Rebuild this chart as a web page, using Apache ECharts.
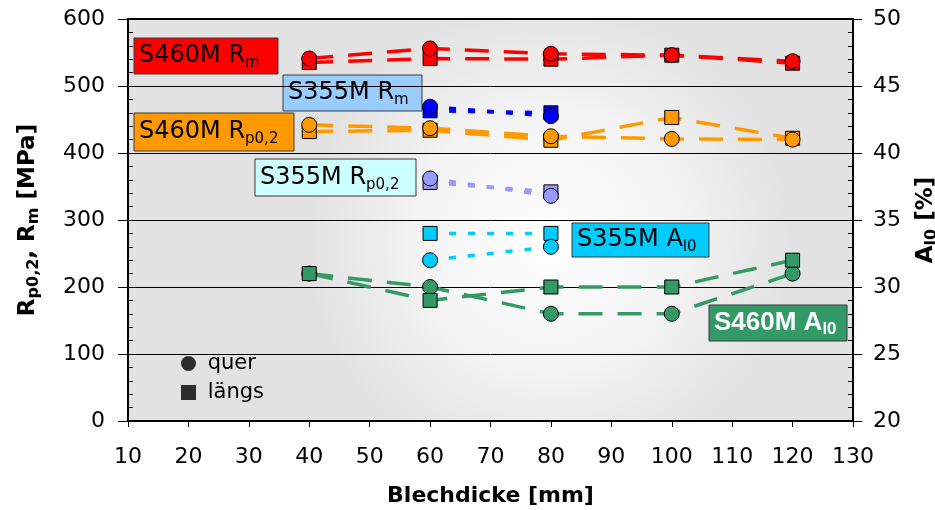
<!DOCTYPE html>
<html>
<head>
<meta charset="utf-8">
<script src="https://cdn.jsdelivr.net/npm/echarts@6/dist/echarts.min.js"></script>
<style>html,body{margin:0;padding:0;background:#fff;}#c{width:935px;height:510px;}</style>
</head>
<body>
<div id="c"></div>
<script>
// ---- data ----
const thickness460 = [40, 60, 80, 100, 120];
const thickness355 = [60, 80];
const s460Rm_quer = [541, 556, 548, 546, 537];
const s460Rm_laengs = [535, 541, 540, 546, 534];
const s355Rm_quer = [469, 455];
const s355Rm_laengs = [463, 460];
const s460Rp_quer = [442, 437, 425, 421, 420];
const s460Rp_laengs = [432, 434, 419, 453, 422];
const s355Rp_quer = [362, 336];
const s355Rp_laengs = [356, 342];
const s355A_quer = [32, 33];
const s355A_laengs = [34, 34];
const s460A_quer = [31, 30, 28, 28, 31];
const s460A_laengs = [31, 29, 30, 30, 32];
const xTicks = [10, 130, 10];      // min, max, interval
const yLeftTicks = [0, 600, 100];
const yRightTicks = [20, 50, 5];

const FONT = '"DejaVu Sans", "Liberation Sans", Arial, sans-serif';
const FONT_ARIAL = '"Liberation Sans", Arial, sans-serif';
const pairs = (xs, ys) => xs.map((x, i) => [x, ys[i]]);

const DASH_LONG = [24, 15];
const DASH_DOT = [7, 12];

function lineSeries(name, xs, ys, color, dash, yIdx) {
  return {
    name: name, type: 'line', yAxisIndex: yIdx, data: pairs(xs, ys),
    symbol: 'none', z: 2, silent: true,
    lineStyle: { color: color, width: 3.5, type: dash }
  };
}
function markSeries(name, xs, ys, color, symbol, yIdx) {
  return {
    name: name, type: 'scatter', yAxisIndex: yIdx, data: pairs(xs, ys),
    symbol: symbol, symbolSize: symbol === 'rect' ? 14 : 15, z: 3,
    itemStyle: { color: color, borderColor: '#000', borderWidth: 1, opacity: 1 }
  };
}

const groups = [
  { id: 'S460M Rm', xs: thickness460, q: s460Rm_quer, l: s460Rm_laengs, color: '#FF0000', dash: DASH_LONG, y: 0, squaresOnTop: false },
  { id: 'S355M Rm', xs: thickness355, q: s355Rm_quer, l: s355Rm_laengs, color: '#0000FF', dash: DASH_DOT, y: 0, squaresOnTop: false },
  { id: 'S460M Rp', xs: thickness460, q: s460Rp_quer, l: s460Rp_laengs, color: '#FF9900', dash: DASH_LONG, y: 0, squaresOnTop: false },
  { id: 'S355M Rp', xs: thickness355, q: s355Rp_quer, l: s355Rp_laengs, color: '#9999FF', dash: DASH_DOT, y: 0, squaresOnTop: false },
  { id: 'S355M A', xs: thickness355, q: s355A_quer, l: s355A_laengs, color: '#00CCFF', dash: DASH_DOT, y: 1, squaresOnTop: false },
  { id: 'S460M A', xs: thickness460, q: s460A_quer, l: s460A_laengs, color: '#339966', dash: DASH_LONG, y: 1, squaresOnTop: true }
];

const series = [];
groups.forEach(g => {
  series.push(lineSeries(g.id + ' quer line', g.xs, g.q, g.color, g.dash, g.y));
  series.push(lineSeries(g.id + ' längs line', g.xs, g.l, g.color, g.dash, g.y));
});
groups.forEach(g => {
  const sq = markSeries(g.id + ' längs', g.xs, g.l, g.color, 'rect', g.y);
  const ci = markSeries(g.id + ' quer', g.xs, g.q, g.color, 'circle', g.y);
  if (g.squaresOnTop) { series.push(ci, sq); } else { series.push(sq, ci); }
});
series.push({ name: 'quer', type: 'scatter', data: [], symbol: 'circle', itemStyle: { color: '#000' } });
series.push({ name: 'längs', type: 'scatter', data: [], symbol: 'rect', itemStyle: { color: '#000' } });

function boxLabel(x, y, w, h, fill, mainTxt, subTxt, textColor, bold) {
  const fam = bold ? FONT_ARIAL : FONT;
  const fs = bold ? 26 : 24;
  const sfs = bold ? 17 : 15;
  return {
    type: 'group', z: 10, children: [
      { type: 'rect', shape: { x: x, y: y, width: w, height: h },
        style: { fill: fill, stroke: '#3a3a3a', lineWidth: 1 } },
      { type: 'text', x: x + 5, y: y + h / 2,
        style: {
          text: mainTxt + '{s|' + subTxt + '}',
          fontFamily: fam, fontSize: fs, fontWeight: bold ? 'bold' : 'normal',
          fill: textColor, verticalAlign: 'middle', align: 'left', lineHeight: 30,
          rich: { s: { fontFamily: fam, fontSize: sfs, fontWeight: bold ? 'bold' : 'normal',
                       fill: textColor, verticalAlign: 'bottom', lineHeight: 16 } }
        } }
    ]
  };
}

const chart = echarts.init(document.getElementById('c'), null, { renderer: 'canvas' });
chart.setOption({
  animation: false,
  backgroundColor: '#ffffff',
  textStyle: { fontFamily: FONT },
  grid: {
    left: 128, right: 82, top: 19, bottom: 89, show: true,
    containLabel: false, outerBoundsMode: 'none',
    borderColor: '#000', borderWidth: 2,
    backgroundColor: new echarts.graphic.RadialGradient(0.58, 0.55, 0.6, [
      { offset: 0, color: '#ffffff' },
      { offset: 0.55, color: '#f3f3f3' },
      { offset: 1, color: '#e2e2e2' }
    ])
  },
  legend: {
    data: [{ name: 'quer', icon: 'circle' }, { name: 'längs', icon: 'rect' }],
    orient: 'vertical', left: 176, top: 348, itemWidth: 15, itemHeight: 15, itemGap: 8,
    formatter: n => ' ' + n,
    textStyle: { fontFamily: FONT, fontSize: 21, color: '#000' },
    selectedMode: false
  },
  xAxis: {
    type: 'value', min: xTicks[0], max: xTicks[1], interval: xTicks[2],
    name: 'Blechdicke [mm]', nameLocation: 'middle', nameGap: 64,
    nameTextStyle: { fontFamily: FONT, fontSize: 22, fontWeight: 'bold', color: '#000' },
    axisLine: { lineStyle: { color: '#000', width: 2 } },
    axisTick: { length: 6, lineStyle: { color: '#000' } },
    axisLabel: { fontFamily: FONT, fontSize: 22, color: '#000', margin: 25 },
    splitLine: { show: false }
  },
  yAxis: [
    {
      type: 'value', position: 'left', min: yLeftTicks[0], max: yLeftTicks[1], interval: yLeftTicks[2],
      name: 'R{s|p0,2}, R{s|m} [MPa]', nameLocation: 'middle', nameGap: 86, nameRotate: 90,
      nameTextStyle: { fontFamily: FONT, fontSize: 23, fontWeight: 'bold', color: '#000', lineHeight: 28,
        rich: { s: { fontFamily: FONT, fontSize: 16, fontWeight: 'bold', color: '#000', verticalAlign: 'bottom', lineHeight: 16 } } },
      axisLine: { show: true, lineStyle: { color: '#000', width: 2 } },
      axisTick: { show: true, length: 10, lineStyle: { color: '#000' } },
      axisLabel: { fontFamily: FONT, fontSize: 22, color: '#000', margin: 23 },
      splitLine: { show: true, lineStyle: { color: '#000', width: 1 } }
    },
    {
      type: 'value', position: 'right', min: yRightTicks[0], max: yRightTicks[1], interval: yRightTicks[2],
      name: 'A{s|l0} [%]', nameLocation: 'middle', nameGap: 54, nameRotate: 90,
      nameTextStyle: { fontFamily: FONT, fontSize: 23, fontWeight: 'bold', color: '#000', lineHeight: 28,
        rich: { s: { fontFamily: FONT, fontSize: 16, fontWeight: 'bold', color: '#000', verticalAlign: 'bottom', lineHeight: 16 } } },
      axisLine: { show: true, lineStyle: { color: '#000', width: 2 } },
      axisTick: { show: true, length: 9, lineStyle: { color: '#000' } },
      axisLabel: { fontFamily: FONT, fontSize: 22, color: '#000', margin: 20 },
      splitLine: { show: false }
    },
    {
      type: 'value', position: 'left', min: yLeftTicks[0], max: yLeftTicks[1], interval: yLeftTicks[2],
      axisLine: { show: false }, axisLabel: { show: false }, splitLine: { show: false },
      axisTick: { show: false, inside: true },
      minorTick: { show: true, splitNumber: 5, length: 5, lineStyle: { color: '#000' } }
    },
    {
      type: 'value', position: 'right', min: yRightTicks[0], max: yRightTicks[1], interval: yRightTicks[2],
      axisLine: { show: false }, axisLabel: { show: false }, splitLine: { show: false },
      axisTick: { show: true, inside: true, length: 9, lineStyle: { color: '#000' } },
      minorTick: { show: true, splitNumber: 5, length: 5, lineStyle: { color: '#000' } }
    }
  ],
  graphic: [
    boxLabel(134, 38, 144, 36, '#FF0000', 'S460M R', 'm', '#000', false),
    boxLabel(283, 75, 139, 36, '#99CCFF', 'S355M R', 'm', '#000', false),
    boxLabel(134, 113, 160, 38, '#FF9900', 'S460M R', 'p0,2', '#000', false),
    boxLabel(255, 159, 161, 37, '#CCFFFF', 'S355M R', 'p0,2', '#000', false),
    boxLabel(572, 223, 137, 34, '#00CCFF', 'S355M A', 'l0', '#000', false),
    boxLabel(709, 305, 138, 36, '#339966', 'S460M A', 'l0', '#FFFFFF', true)
  ],
  series: series
});
</script>
</body>
</html>
